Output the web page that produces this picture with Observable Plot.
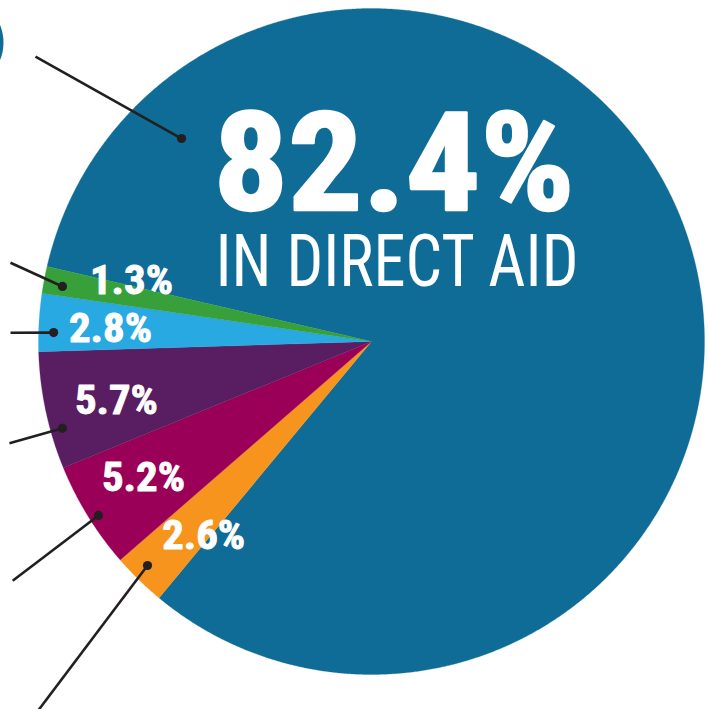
<!DOCTYPE html>
<html><head><meta charset="utf-8">
<script src="https://cdn.jsdelivr.net/npm/d3@7"></script>
<script src="https://cdn.jsdelivr.net/npm/@observablehq/plot@0.6"></script>
<style>html,body{margin:0;padding:0;background:#fff;overflow:hidden}</style>
</head><body><div id="chart"></div>
<script>
// ---- data (slices listed clockwise from the top of the pie) ----
const categories = ["Direct aid", "Segment E", "Segment D", "Segment C", "Segment B", "Segment A"];
const shares = [82.4, 2.6, 5.2, 5.7, 2.8, 1.3];
const shareLabels = ["82.4%", "2.6%", "5.2%", "5.7%", "2.8%", "1.3%"];
const headline = "IN DIRECT AID";
const colors = ["#0f6c96", "#f7941d", "#9b0058", "#591d62", "#29a9e1", "#37a03b"];

// ---- layout ----
const W = 709, H = 709, CX = 371, CY = 341, R = 333;
const startDeg = -77;
// annotation placement, polar: [degrees clockwise from 12 o'clock, radius px]
const labelPolar = [null, [220.7, 257.4], [239.0, 266], [256.8, 262], [272.6, 261.3], [284.0, 247.4]];
const dotPolar = [[316.9, 278], [225, 316.8], [237.5, 323.7], [254.3, 321], [271.6, 318], [280.1, 313.9]];
const endPolar = [[310.3, 440.6], [222.1, 496.3], [236.3, 431.3], [254.3, 376.1], [271.4, 361.1], [282.3, 369.5]];
const headPos = [-158, 229];
const subOffset = {dx: 2, dy: 76.5, size: 73};
const fit = {small: 83, pct: 361, sub: 363};
const ink = "#231f20";
const fontFam = "'Liberation Sans Narrow', 'Roboto Condensed', 'DejaVu Sans Condensed', 'Liberation Sans', sans-serif";

const rad = Math.PI / 180;
const polar = (deg, r) => [r * Math.sin(deg * rad), r * Math.cos(deg * rad)];

const arcs = d3.pie().value(d => d).sort(null)
  .startAngle(startDeg * rad).endAngle(startDeg * rad + 2 * Math.PI)(shares);

const slicePts = [];
arcs.forEach((a, i) => {
  const n = Math.max(2, Math.ceil((a.endAngle - a.startAngle) / (0.25 * rad)));
  slicePts.push({k: categories[i], x: 0, y: 0});
  for (let j = 0; j <= n; j++) {
    const t = a.startAngle + (a.endAngle - a.startAngle) * j / n;
    slicePts.push({k: categories[i], x: R * Math.sin(t), y: R * Math.cos(t)});
  }
  slicePts.push({k: categories[i], x: 0, y: 0});
});

const small = [];
shareLabels.forEach((s, i) => {
  if (labelPolar[i]) { const [x, y] = polar(...labelPolar[i]); small.push({text: s, x, y}); }
});
const leaders = categories.map((k, i) => {
  const [x1, y1] = polar(...dotPolar[i]);
  const [x2, y2] = polar(...endPolar[i]);
  return {k, x1, y1, x2, y2};
});
const head = [{text: shareLabels[0] + "\n" + headline, x: headPos[0], y: headPos[1]}];

const svg = Plot.plot({
  width: W, height: H, margin: 0,
  x: {domain: [-CX, W - CX], axis: null},
  y: {domain: [CY - H, CY], axis: null},
  color: {domain: categories, range: colors},
  marks: [
    Plot.dot([{x: -415, y: 299}], {x: "x", y: "y", r: 47, fill: colors[0], stroke: "none"}),
    Plot.line(slicePts, {x: "x", y: "y", z: "k", fill: "k", stroke: "k", strokeWidth: 0.3}),
    Plot.link(leaders, {x1: "x2", y1: "y2", x2: "x1", y2: "y1", stroke: ink, strokeWidth: 2.6}),
    Plot.dot(leaders, {x: "x1", y: "y1", r: 4.6, fill: ink, stroke: "none"}),
    Plot.text(small, {x: "x", y: "y", text: "text", fill: "white", stroke: "white", strokeWidth: 0.9,
      fontSize: 40, fontWeight: "bold", fontFamily: fontFam, textAnchor: "middle", lineAnchor: "middle"}),
    Plot.text(head, {x: "x", y: "y", text: "text", fill: "white", stroke: "white", strokeWidth: 2.4,
      fontSize: 137, fontWeight: "bold", fontFamily: fontFam, textAnchor: "start", lineAnchor: "top"})
  ]
});

svg.querySelectorAll("text").forEach(t => {
  const spans = t.querySelectorAll("tspan");
  if (spans.length === 2) {
    spans[0].setAttribute("textLength", fit.pct);
    spans[0].setAttribute("lengthAdjust", "spacingAndGlyphs");
    const s = spans[1];
    s.setAttribute("dy", subOffset.dy);
    s.setAttribute("x", subOffset.dx);
    s.setAttribute("font-size", subOffset.size);
    s.setAttribute("font-weight", "normal");
    s.setAttribute("stroke-width", 0);
    s.setAttribute("textLength", fit.sub);
    s.setAttribute("lengthAdjust", "spacingAndGlyphs");
  } else if (shareLabels.includes(t.textContent)) {
    t.setAttribute("textLength", fit.small);
    t.setAttribute("lengthAdjust", "spacingAndGlyphs");
  }
});
document.getElementById("chart").appendChild(svg);
</script>
</body></html>
